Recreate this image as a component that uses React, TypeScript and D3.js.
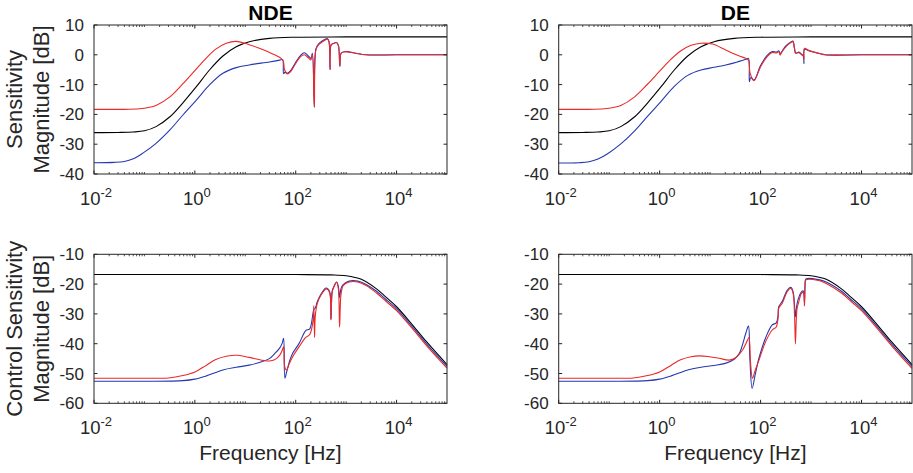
import * as d3 from "d3";

type Pt = [number, number]; // [frequency Hz, magnitude dB]

// --- data ---
const panelTitles = ["NDE", "DE"];
const rowLabels = [
  ["Sensitivity", "Magnitude [dB]"],
  ["Control Sensitivity", "Magnitude [dB]"],
];
const xTickExponents = [-2, 0, 2, 4];
const sensYTicks = [-40, -30, -20, -10, 0, 10];
const ctrlYTicks = [-60, -50, -40, -30, -20, -10];

// sensitivity, nominal (black), same in both columns
const sensNominal: Pt[] = [
  [0.01, -26.1], [0.03, -26.05], [0.06, -25.9], [0.1, -25.5], [0.17, -24.1], [0.32, -20.8],
  [0.58, -16.1], [1.07, -10.7], [1.95, -5.1], [3.6, -0.4], [6.6, 2.7], [12, 4.4], [30, 5.5],
  [100, 5.9], [1000, 6.0], [100000, 6.0],
];
const sensNdeBlue: Pt[] = [
  [0.01, -36.2], [0.025, -36.1], [0.04, -35.8], [0.06, -34.9], [0.093, -33.0], [0.17, -29.7],
  [0.32, -25.2], [0.58, -20.2], [1.07, -15.2], [1.95, -10.1], [3.6, -6.2], [6.6, -4.3],
  [12, -3.4], [30, -2.4], [48, -1.8], [55, -1.6], [57.5, -6.3], [61, -5.9], [69, -6.2],
  [80, -5.2], [100, -2.5], [125, -0.2], [148, 0.7], [178, -0.4], [200, -1.2], [214, 0.5],
  [234, -17.6], [251, 2.0], [282, 3.6], [339, 4.7], [427, 5.4], [458, 4.4], [479, -4.9],
  [505, 3.4], [560, 3.8], [646, 4.1], [705, 3.0], [750, -3.8], [800, 0.6], [977, 1.05],
  [1549, 0.5], [2455, 0.0], [10000, 0.0], [100000, 0.0],
];
const sensNdeRed: Pt[] = [
  [0.01, -18.3], [0.04, -18.3], [0.08, -18.1], [0.12, -17.7], [0.17, -17.0], [0.32, -14.1],
  [0.58, -9.7], [1, -5.3], [1.7, -1.0], [2.6, 1.9], [4.2, 3.9], [6.6, 4.5], [12, 3.4],
  [19, 2.2], [35, 0.3], [51, -1.2], [57, -2.2], [60, -5.0], [69, -6.4], [80, -5.6],
  [100, -2.9], [125, -0.6], [148, 0.0], [178, -1.0], [200, -1.7], [214, 0.2], [234, -17.6],
  [251, 1.6], [282, 3.3], [339, 4.4], [427, 5.2], [458, 4.3], [479, -4.9], [505, 3.4],
  [560, 3.8], [646, 4.1], [705, 3.0], [750, -3.8], [800, 0.6], [977, 1.05], [1549, 0.5],
  [2455, 0.0], [10000, 0.0], [100000, 0.0],
];
const sensDeBlue: Pt[] = [
  [0.01, -36.3], [0.025, -36.2], [0.04, -35.9], [0.06, -35.0], [0.093, -33.2], [0.17, -29.9],
  [0.32, -25.5], [0.58, -20.6], [1.07, -15.6], [1.95, -10.6], [3.6, -6.9], [6.6, -5.1],
  [12, -4.2], [20.4, -3.4], [30, -2.7], [51, -1.5], [57.5, -1.2], [60, -9.0], [64, -7.6],
  [74, -8.5], [100, -3.6], [135, -0.2], [170, 1.1], [205, 0.9], [232, 1.3], [243, 0.3],
  [262, 1.0], [316, 3.0], [398, 4.3], [437, 4.6], [470, 2.2], [495, 0.6], [575, 0.9],
  [646, 0.2], [700, -0.3], [724, -2.9], [741, 1.8], [912, 1.4], [1413, 0.5], [1905, 0.0],
  [10000, 0.0], [100000, 0.0],
];
const sensDeRed: Pt[] = [
  [0.01, -18.3], [0.04, -18.3], [0.08, -18.1], [0.12, -17.7], [0.17, -17.0], [0.32, -14.1],
  [0.58, -9.8], [1, -5.5], [1.7, -1.4], [2.6, 1.3], [4.2, 3.2], [6.6, 3.9], [11.2, 3.6],
  [20.4, 1.6], [38, -0.4], [51, -1.2], [57.5, -1.8], [62, -6.2], [74, -8.7], [100, -4.0],
  [135, -0.6], [170, 0.8], [205, 0.6], [232, 1.0], [243, -0.1], [262, 0.8], [316, 2.7],
  [398, 4.1], [437, 4.4], [470, 2.0], [495, 0.5], [575, 0.7], [646, 0.0], [710, -0.5],
  [728, -1.5], [741, 2.2], [912, 1.4], [1413, 0.5], [1905, 0.0], [10000, 0.0], [100000, 0.0],
];

// control sensitivity, nominal (black), same in both columns
const ctrlNominal: Pt[] = [
  [0.01, -16.8], [1, -16.8], [100, -16.8], [500, -16.9], [1000, -17.2], [2000, -18.4],
  [4000, -21.6], [6000, -24.2], [10000, -27.6], [20000, -33.4], [40000, -39.5],
  [100000, -47.0],
];
const ctrlNdeBlue: Pt[] = [
  [0.01, -52.6], [0.1, -52.6], [0.58, -52.4], [1, -51.9], [1.7, -50.8], [3.6, -48.8],
  [6.6, -47.9], [12, -47.2], [19, -46.3], [30, -45.0], [38, -43.4], [48, -41.5], [54, -39.8],
  [57.5, -38.2], [61, -51.6], [66, -49.5], [75, -46.0], [87, -43.2], [117, -39.9],
  [158, -35.6], [190, -35.0], [229, -28.5], [245, -28.0], [269, -25.8], [316, -23.4],
  [400, -21.3], [470, -22.5], [501, -31.8], [530, -22.3], [575, -20.7], [646, -19.3],
  [700, -20.8], [741, -24.5], [790, -21.5], [871, -20.2], [1148, -19.0], [1700, -19.0],
  [2500, -20.1], [4000, -22.4], [6000, -25.0], [10000, -28.3], [20000, -34.1],
  [40000, -40.2], [100000, -47.6],
];
const ctrlNdeRed: Pt[] = [
  [0.01, -51.6], [0.1, -51.6], [0.3, -51.5], [0.58, -50.7], [1, -49.5], [1.7, -47.2],
  [2.6, -45.3], [4.2, -44.2], [7.1, -43.9], [12, -44.6], [22.4, -45.6], [30, -45.8],
  [38, -45.4], [48, -43.9], [54, -42.2], [57.5, -41.0], [61, -48.0], [66, -48.8], [75, -46.6],
  [87, -44.4], [117, -41.0], [158, -37.9], [190, -36.9], [222, -32.0], [229, -27.3],
  [236, -37.9], [245, -30.5], [269, -26.4], [316, -23.7], [407, -21.6], [470, -22.8],
  [501, -32.0], [530, -22.5], [575, -20.9], [646, -19.4], [700, -21.5], [741, -34.5],
  [790, -23.5], [871, -20.5], [1148, -19.3], [1700, -19.3], [2500, -20.5], [4000, -23.0],
  [6000, -25.6], [10000, -28.9], [20000, -34.7], [40000, -40.8], [100000, -48.2],
];
const ctrlDeBlue: Pt[] = [
  [0.01, -52.6], [0.1, -52.6], [0.58, -52.4], [1, -51.9], [1.7, -50.8], [3.6, -48.8],
  [6.6, -47.9], [12, -47.3], [20, -46.6], [30, -45.2], [38, -43.2], [51, -36.5],
  [57.5, -34.1], [61, -44.0], [68, -55.0], [78, -50.5], [93, -44.8], [126, -38.0],
  [170, -33.7], [204, -33.0], [222, -30.5], [229, -27.6], [269, -25.8], [339, -22.0],
  [398, -21.1], [440, -22.5], [470, -27.0], [490, -31.0], [510, -28.5], [530, -26.5],
  [562, -24.8], [646, -22.6], [700, -22.3], [741, -26.0], [760, -20.5], [794, -18.3],
  [1413, -18.5], [2000, -19.3], [4000, -22.4], [6000, -25.0], [10000, -28.3],
  [20000, -34.1], [40000, -40.2], [100000, -47.6],
];
const ctrlDeRed: Pt[] = [
  [0.01, -51.6], [0.1, -51.6], [0.3, -51.5], [0.58, -50.7], [1, -49.5], [1.7, -47.2],
  [2.6, -45.4], [4.2, -44.4], [6.1, -44.1], [9, -44.3], [15, -44.9], [24, -45.5], [32, -44.7],
  [44, -42.1], [55, -38.8], [59, -37.9], [63, -46.0], [69, -51.6], [78, -49.0], [93, -45.5],
  [126, -39.3], [170, -35.4], [204, -34.4], [222, -31.5], [229, -28.1], [269, -26.4],
  [339, -22.5], [398, -21.4], [440, -23.0], [470, -30.0], [490, -40.1], [510, -32.0],
  [530, -28.0], [562, -26.4], [646, -23.1], [700, -22.8], [741, -27.3], [760, -21.0],
  [794, -18.6], [1413, -18.8], [2000, -19.8], [4000, -23.0], [6000, -25.6], [10000, -28.9],
  [20000, -34.7], [40000, -40.8], [100000, -48.3],
];

const FONT = "'Liberation Sans', Arial, Helvetica, sans-serif";
const AXIS = "#262626";
const BLACK = "#000000";
const BLUE = "#2438b0";
const RED = "#ec2828";

type PanelProps = {
  x0: number; x1: number; y0: number; y1: number;
  yDomain: [number, number];
  yTicks: number[];
  series: { data: Pt[]; color: string }[];
  title?: string;
  ylabel?: string[];
  xlabel?: string;
};

function Panel({ x0, x1, y0, y1, yDomain, yTicks, series, title, ylabel, xlabel }: PanelProps) {
  const x = d3.scaleLog().domain([1e-2, 1e5]).range([x0, x1]);
  const y = d3.scaleLinear().domain(yDomain).range([y1, y0]);
  const line = d3
    .line<Pt>()
    .x((d) => x(d[0]))
    .y((d) => y(d[1]))
    .curve(d3.curveCatmullRom.alpha(0.5));

  // minor ticks: 2..9 of every decade, plus the unlabeled decades
  const minor: number[] = [];
  for (let e = -2; e < 5; e++) {
    for (let m = 1; m < 10; m++) {
      if (m === 1 && xTickExponents.includes(e)) continue;
      minor.push(m * Math.pow(10, e));
    }
  }
  const major = xTickExponents.map((e) => Math.pow(10, e));
  const midX = (x0 + x1) / 2;
  const midY = (y0 + y1) / 2;

  return (
    <g>
      {series.map((s, i) => (
        <path key={i} d={line(s.data) ?? ""} fill="none" stroke={s.color} strokeWidth={1.1} strokeLinejoin="round" />
      ))}
      <rect x={x0} y={y0} width={x1 - x0} height={y1 - y0} fill="none" stroke={AXIS} strokeWidth={1} />
      {minor.map((v, i) => (
        <g key={"m" + i} stroke={AXIS} strokeWidth={0.8}>
          <line x1={x(v)} x2={x(v)} y1={y1} y2={y1 - 2} />
          <line x1={x(v)} x2={x(v)} y1={y0} y2={y0 + 2} />
        </g>
      ))}
      {major.map((v, i) => (
        <g key={"M" + i} stroke={AXIS} strokeWidth={1}>
          <line x1={x(v)} x2={x(v)} y1={y1} y2={y1 - 3.5} />
          <line x1={x(v)} x2={x(v)} y1={y0} y2={y0 + 3.5} />
        </g>
      ))}
      {yTicks.map((t) => (
        <g key={"y" + t} stroke={AXIS} strokeWidth={1}>
          <line x1={x0} x2={x0 + 3.5} y1={y(t)} y2={y(t)} />
          <line x1={x1} x2={x1 - 3.5} y1={y(t)} y2={y(t)} />
        </g>
      ))}
      {yTicks.map((t) => (
        <text key={"yl" + t} x={x0 - 10} y={y(t) + 6} textAnchor="end" fontSize={17} fill={AXIS} fontFamily={FONT}>
          {t}
        </text>
      ))}
      {xTickExponents.map((e) => (
        <text key={"xl" + e} x={x(Math.pow(10, e)) + 2} y={y1 + 31} textAnchor="middle" fontSize={18.5} fill={AXIS} fontFamily={FONT}>
          <tspan>10</tspan>
          <tspan dy={-8} fontSize={13}>{e}</tspan>
        </text>
      ))}
      {title && (
        <text x={midX} y={20} textAnchor="middle" fontSize={21} fontWeight="bold" fill="#000" fontFamily={FONT}>
          {title}
        </text>
      )}
      {ylabel &&
        ylabel.map((s, i) => (
          <text
            key={"lab" + i}
            transform={`translate(${22 + i * 27},${midY}) rotate(-90)`}
            textAnchor="middle"
            fontSize={22}
            fill={AXIS}
            fontFamily={FONT}
          >
            {s}
          </text>
        ))}
      {xlabel && (
        <text x={midX} y={460} textAnchor="middle" fontSize={21} fill={AXIS} fontFamily={FONT}>
          {xlabel}
        </text>
      )}
    </g>
  );
}

export default function App() {
  const cols = [
    { x0: 94, x1: 447 },
    { x0: 558.7, x1: 912 },
  ];
  const rows = [
    { y0: 25, y1: 174 },
    { y0: 254.3, y1: 403.3 },
  ];
  const sens = [
    [sensNominal, sensNdeBlue, sensNdeRed],
    [sensNominal, sensDeBlue, sensDeRed],
  ];
  const ctrl = [
    [ctrlNominal, ctrlNdeBlue, ctrlNdeRed],
    [ctrlNominal, ctrlDeBlue, ctrlDeRed],
  ];
  const colors = [BLACK, BLUE, RED];

  return (
    <svg
      width={913}
      height={473}
      style={{ position: "fixed", left: 0, top: 0, background: "#fff" }}
    >
      {cols.map((c, ci) => (
        <g key={ci}>
          <Panel
            {...c}
            {...rows[0]}
            yDomain={[-40, 10]}
            yTicks={sensYTicks}
            series={sens[ci].map((d, i) => ({ data: d, color: colors[i] }))}
            title={panelTitles[ci]}
            ylabel={ci === 0 ? rowLabels[0] : undefined}
          />
          <Panel
            {...c}
            {...rows[1]}
            yDomain={[-60, -10]}
            yTicks={ctrlYTicks}
            series={ctrl[ci].map((d, i) => ({ data: d, color: colors[i] }))}
            ylabel={ci === 0 ? rowLabels[1] : undefined}
            xlabel="Frequency [Hz]"
          />
        </g>
      ))}
    </svg>
  );
}
